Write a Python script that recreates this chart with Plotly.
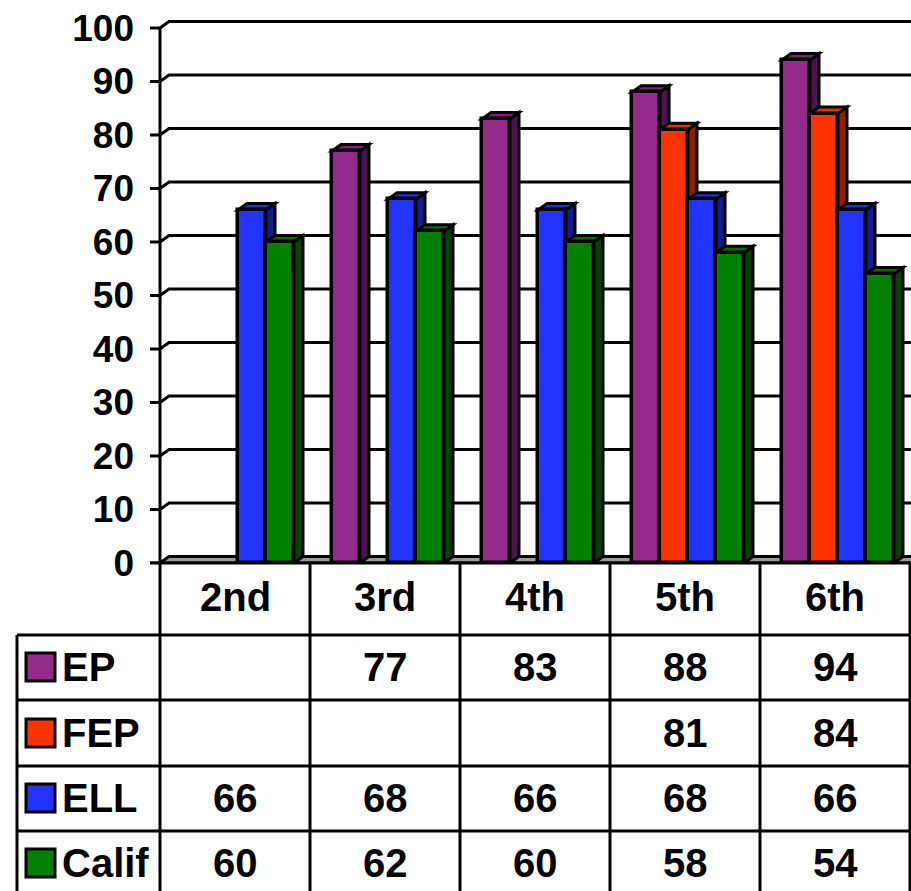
import plotly.graph_objects as go

# ── Data ──────────────────────────────────────────────────────────────────────
GRADES = ["2nd", "3rd", "4th", "5th", "6th"]
SERIES = ["EP", "FEP", "ELL", "Calif"]
EP = [None, 77, 83, 88, 94]
FEP = [None, None, None, 81, 84]
ELL = [66, 68, 66, 68, 66]
CALIF = [60, 62, 60, 58, 54]
Y_TICKS = [0, 10, 20, 30, 40, 50, 60, 70, 80, 90, 100]

VALUES = [EP, FEP, ELL, CALIF]
FRONT = ["#932A8C", "#FF3300", "#2233FF", "#008000"]
TOP = ["#7A2278", "#E83000", "#1E2EE6", "#006E00"]
SIDE = ["#4E1250", "#961E00", "#0F1C96", "#004400"]

# ── Geometry (pixels of the 911x891 page) ─────────────────────────────────────
W, H = 911, 891
ML, MT = 150, 10
Y0_PX = 563                # pixel row of value 0
PX_PER_UNIT = 5.35         # y pixels per value unit
PX_PER_CAT = 150.0         # x pixels per category
X_LEFT = -0.5 - 10 / PX_PER_CAT
X_RIGHT = X_LEFT + (W - ML) / PX_PER_CAT
Y_TOP = (Y0_PX - MT) / PX_PER_UNIT

DX = 9 / PX_PER_CAT        # 3-D depth offsets in data units
DY = 6.5 / PX_PER_UNIT
BAR_W = 28 / PX_PER_CAT
OFFSETS = [-39 / PX_PER_CAT, -11 / PX_PER_CAT, 17 / PX_PER_CAT, 45 / PX_PER_CAT]

FONT = "Arial, 'Liberation Sans', sans-serif"
LINE = 3


def px(xp):
    """page x pixel -> paper x"""
    return (xp - ML) / (W - ML)


def py(yp):
    """page y pixel -> paper y"""
    return (Y0_PX - yp) / (Y0_PX - MT)


shapes = []

# back wall gridlines with a short diagonal to the front axis
for v in Y_TICKS[1:]:
    shapes.append(dict(
        type="path", xref="x", yref="y", layer="below",
        path=f"M -0.5,{v} L {-0.5 + DX},{v + DY} L {X_RIGHT + 1},{v + DY}",
        line=dict(color="black", width=LINE),
    ))
# floor
shapes.append(dict(
    type="path", xref="x", yref="y", layer="below",
    path=f"M -0.5,0 L {-0.5 + DX},{DY} L {X_RIGHT + 1},{DY} L {X_RIGHT + 1},0 Z",
    fillcolor="#999999", line=dict(color="black", width=LINE),
))
# tick marks and the front axis line
for v in Y_TICKS:
    shapes.append(dict(
        type="line", xref="x", yref="y", layer="below",
        x0=X_LEFT, x1=-0.5, y0=v, y1=v,
        line=dict(color="black", width=LINE),
    ))
shapes.append(dict(
    type="line", xref="x", yref="y", layer="below",
    x0=-0.5, x1=-0.5, y0=0, y1=100,
    line=dict(color="black", width=LINE),
))

# side and top faces of each bar, drawn series by series
for k, vals in enumerate(VALUES):
    for i, v in enumerate(vals):
        if v is None:
            continue
        c = i + OFFSETS[k]
        l, r = c - BAR_W / 2, c + BAR_W / 2
        shapes.append(dict(
            type="path", xref="x", yref="y", layer="below",
            path=f"M {r},0 L {r},{v} L {r + DX},{v + DY} L {r + DX},{DY} Z",
            fillcolor=SIDE[k], line=dict(color="black", width=3),
        ))
        shapes.append(dict(
            type="path", xref="x", yref="y", layer="below",
            path=f"M {l},{v} L {r},{v} L {r + DX},{v + DY} L {l + DX},{v + DY} Z",
            fillcolor=TOP[k], line=dict(color="black", width=3),
        ))

fig = go.Figure()
for k, vals in enumerate(VALUES):
    xs = [i + OFFSETS[k] for i, v in enumerate(vals) if v is not None]
    ys = [v for v in vals if v is not None]
    fig.add_trace(go.Bar(
        x=xs, y=ys, width=BAR_W, name=SERIES[k],
        marker=dict(color=FRONT[k], line=dict(color="black", width=3.5)),
    ))

# ── Data table below the plot ────────────────────────────────────────────────
ROW_LINES = [635, 700, 766, 831]
ROW_CENTERS = [667, 733, 798, 863]
COL_LINES = [160 + PX_PER_CAT * j for j in range(len(GRADES) + 1)]
TABLE_LEFT = 17

shapes.append(dict(type="line", xref="paper", yref="paper",
                   x0=px(150), x1=px(W), y0=py(563), y1=py(563),
                   line=dict(color="black", width=LINE)))
for yl in ROW_LINES:
    shapes.append(dict(type="line", xref="paper", yref="paper",
                       x0=px(TABLE_LEFT), x1=px(910), y0=py(yl), y1=py(yl),
                       line=dict(color="black", width=LINE)))
for xl in COL_LINES:
    shapes.append(dict(type="line", xref="paper", yref="paper",
                       x0=px(xl), x1=px(xl), y0=py(563), y1=py(H + 5),
                       line=dict(color="black", width=LINE)))
shapes.append(dict(type="line", xref="paper", yref="paper",
                   x0=px(TABLE_LEFT), x1=px(TABLE_LEFT), y0=py(635), y1=py(H + 5),
                   line=dict(color="black", width=LINE)))

annotations = []
tfont = dict(family=FONT, size=40, color="black", weight="bold")
for i, g in enumerate(GRADES):
    annotations.append(dict(x=i, y=py(597), xref="x", yref="paper", text=g,
                            showarrow=False, font=tfont,
                            xanchor="center", yanchor="middle"))
for k, name in enumerate(SERIES):
    yc = ROW_CENTERS[k]
    shapes.append(dict(type="rect", xref="paper", yref="paper",
                       x0=px(26), x1=px(55), y0=py(yc - 14), y1=py(yc + 14),
                       fillcolor=FRONT[k], line=dict(color="black", width=LINE)))
    annotations.append(dict(x=px(60), y=py(yc), xref="paper", yref="paper",
                            text=name, showarrow=False, font=tfont,
                            xanchor="left", yanchor="middle"))
    for i, v in enumerate(VALUES[k]):
        if v is None:
            continue
        annotations.append(dict(x=i, y=py(yc), xref="x", yref="paper",
                                text=str(v), showarrow=False, font=tfont,
                                xanchor="center", yanchor="middle"))

fig.update_layout(
    width=W, height=H,
    margin=dict(l=ML, r=0, t=MT, b=H - Y0_PX, pad=0),
    paper_bgcolor="white", plot_bgcolor="white",
    barmode="overlay", bargap=0,
    showlegend=False,
    xaxis=dict(range=[X_LEFT, X_RIGHT], visible=False, fixedrange=True),
    yaxis=dict(
        range=[0, Y_TOP], tickvals=Y_TICKS, ticks="", showgrid=False,
        zeroline=False, showline=False, ticklabelstandoff=15,
        tickfont=dict(family=FONT, size=37, color="black", weight="bold"),
        fixedrange=True,
    ),
    shapes=shapes,
    annotations=annotations,
)

fig.write_html("out.html", config={"displayModeBar": False},
               post_script="document.body.style.margin = '0';")
